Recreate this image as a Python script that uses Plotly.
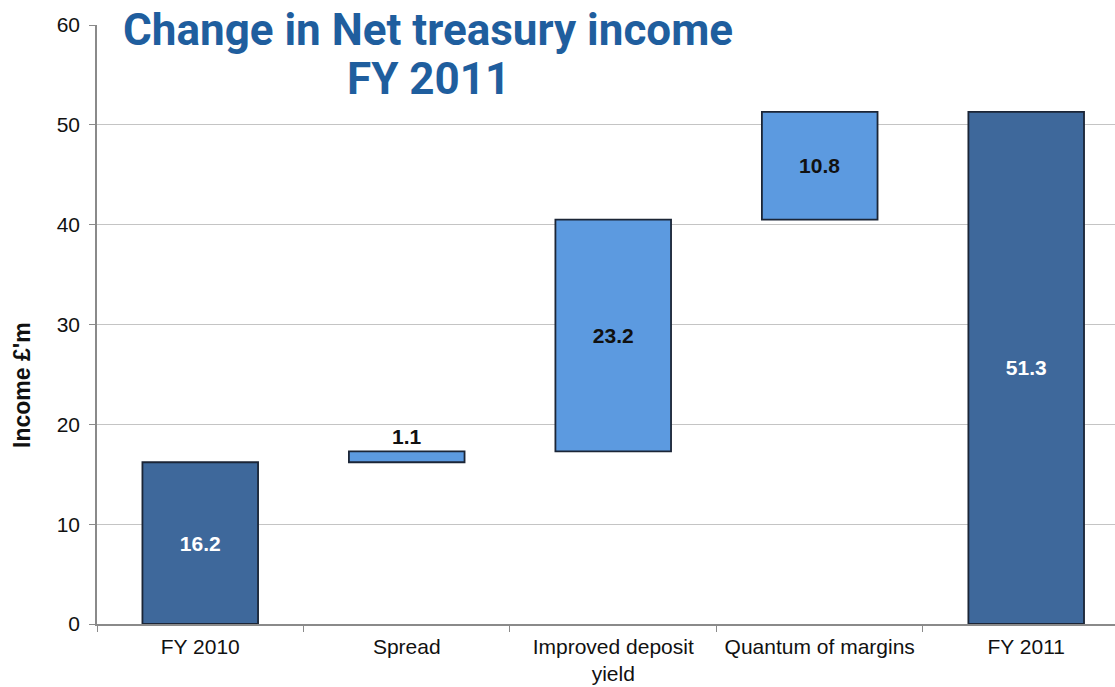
import plotly.graph_objects as go

categories = ["FY 2010", "Spread", "Improved deposit<br>yield", "Quantum of margins", "FY 2011"]
values = [16.2, 1.1, 23.2, 10.8, 51.3]
kinds = ["total", "delta", "delta", "delta", "total"]
labels = ["16.2", "1.1", "23.2", "10.8", "51.3"]
title_lines = ["Change in Net treasury income", "FY 2011"]
y_title = "Income £'m"

# bases for waterfall
bases = []
running = 0.0
for v, k in zip(values, kinds):
    if k == "total":
        bases.append(0)
        running = v
    else:
        bases.append(running)
        running += v

dark = "#3E689B"
light = "#5C9AE0"
colors = [dark if k == "total" else light for k in kinds]
text_colors = ["white" if k == "total" else "#111111" for k in kinds]
text_pos = ["inside", "outside", "inside", "inside", "inside"]

fig = go.Figure()
fig.add_trace(go.Bar(
    x=categories, y=values, base=bases,
    width=0.56,
    marker=dict(color=colors, line=dict(color="#1B2536", width=1.8)),
    text=labels, textposition=text_pos,
    insidetextanchor="middle",
    textfont=dict(family="Liberation Sans, Arial", size=21, color=text_colors),
    outsidetextfont=dict(family="Liberation Sans, Arial", size=21, color="#111111"),
    cliponaxis=False,
    hoverinfo="skip",
))
fig.update_traces(texttemplate="<b>%{text}</b>")

title_x = (428 - 97) / 1018
title_font = dict(family="Roboto", size=44, weight="bold", color="#1F5E9E", shadow="none")
fig.update_layout(
    width=1115, height=687,
    margin=dict(l=97, r=0, t=25, b=63),
    plot_bgcolor="white", paper_bgcolor="white",
    showlegend=False,
    font=dict(family="Liberation Sans, Arial", color="#111111"),
    xaxis=dict(
        range=[-0.5, 4.43],
        showgrid=False,
        showline=True, linecolor="#8a8a8a", linewidth=1.5,
        ticks="outside", tickson="boundaries", ticklen=6, tickcolor="#8a8a8a",
        tickfont=dict(size=21, color="#111111"),
        ticklabelstandoff=3,
        fixedrange=True,
    ),
    yaxis=dict(
        range=[0, 60], dtick=10,
        showgrid=True, gridcolor="#c4c4c4", gridwidth=1.2,
        showline=True, linecolor="#8a8a8a", linewidth=1.5,
        ticks="outside", ticklen=6, tickcolor="#8a8a8a",
        tickfont=dict(size=21, color="#111111"),
        ticklabelstandoff=5,
        zeroline=False,
    ),
    annotations=[
        dict(text=title_lines[0], xref="paper", yref="paper",
             x=title_x, y=(624 - 30) / 599,
             xanchor="center", yanchor="middle", showarrow=False,
             font=title_font),
        dict(text=title_lines[1], xref="paper", yref="paper",
             x=title_x, y=(624 - 79) / 599,
             xanchor="center", yanchor="middle", showarrow=False,
             font=title_font),
        dict(text="<b>" + y_title + "</b>", xref="paper", yref="paper",
             x=(22 - 97) / 1018, y=(624 - 385) / 599, textangle=-90,
             xanchor="center", yanchor="middle", showarrow=False,
             font=dict(family="Liberation Sans, Arial", size=23, color="#111111")),
    ],
)

fig.write_html("out.html")
